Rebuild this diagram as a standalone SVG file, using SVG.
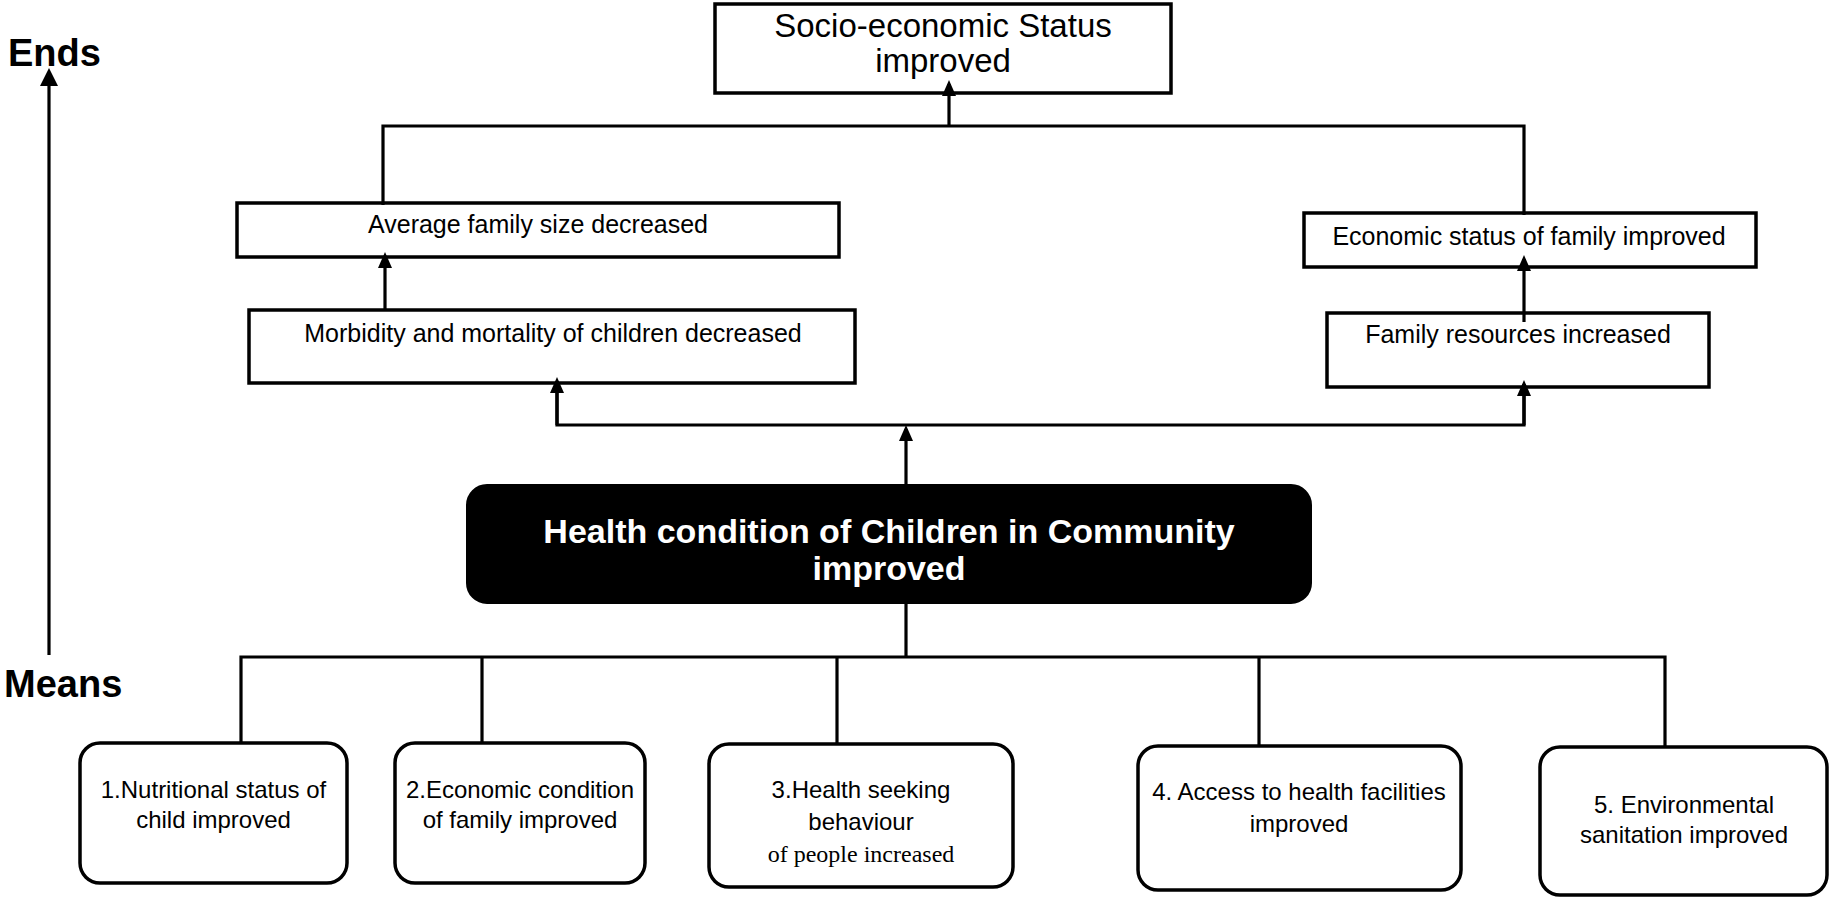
<svg xmlns="http://www.w3.org/2000/svg" width="1830" height="898" viewBox="0 0 1830 898">
<style>
.box{fill:#fff;stroke:#000;stroke-width:3.5}
.rbox{fill:#fff;stroke:#000;stroke-width:3.5}
.dark{fill:#000;stroke:#000;stroke-width:2}
.t{font-family:"Liberation Sans",Arial,sans-serif;fill:#000;text-anchor:middle}
.s25{font-size:25px}
.s24{font-size:24px}
.serif{font-family:"Liberation Serif","Times New Roman",serif;font-size:24px}
.hd{font-family:"Liberation Sans",Arial,sans-serif;font-weight:bold;font-size:34px;fill:#fff;text-anchor:middle}
.axis{font-family:"Liberation Sans",Arial,sans-serif;font-weight:bold;font-size:38px;fill:#000}
.ln{fill:none;stroke:#000;stroke-width:3.2}
</style>
<defs>
<marker id="ah" viewBox="0 0 16 14" refX="12" refY="7" markerWidth="16" markerHeight="14" markerUnits="userSpaceOnUse" orient="auto"><path d="M0,0 L16,7 L0,14 z" fill="#000"/></marker>
<marker id="ahBig" viewBox="0 0 18 18" refX="14" refY="9" markerWidth="18" markerHeight="18" markerUnits="userSpaceOnUse" orient="auto"><path d="M0,0 L18,9 L0,18 z" fill="#000"/></marker>
</defs>

<g id="axis">
<text class="axis" x="8" y="66">Ends</text>
<text class="axis" x="4" y="697">Means</text>
<line class="ln" x1="49" y1="655" x2="49" y2="72" marker-end="url(#ahBig)"/>
</g>

<g id="node-socio">
<rect class="box" x="715" y="4" width="456" height="89"/>
<text class="t" x="943" y="37" style="font-size:33px">Socio-economic Status</text>
<text class="t" x="943" y="72" style="font-size:33px">improved</text>
</g>

<g id="node-family-size">
<rect class="box" x="237" y="203" width="602" height="54"/>
<text class="t s25" x="538" y="233">Average family size decreased</text>
</g>

<g id="node-morbidity">
<rect class="box" x="249" y="310" width="606" height="73"/>
<text class="t s25" x="553" y="342">Morbidity and mortality of children decreased</text>
</g>

<g id="node-economic-status">
<rect class="box" x="1304" y="213" width="452" height="54"/>
<text class="t s25" x="1529" y="245">Economic status of family improved</text>
</g>

<g id="node-family-resources">
<rect class="box" x="1327" y="313" width="382" height="74"/>
<text class="t s25" x="1518" y="343">Family resources increased</text>
</g>

<g id="node-health">
<rect class="dark" x="467" y="485" width="844" height="118" rx="20" ry="20"/>
<text class="hd" x="889" y="543">Health condition of Children in Community</text>
<text class="hd" x="889" y="580">improved</text>
</g>

<g id="node-means1">
<rect class="rbox" x="80" y="743" width="267" height="140" rx="20" ry="20"/>
<text class="t s24" x="213.5" y="798">1.Nutritional status of</text>
<text class="t s24" x="213.5" y="828">child improved</text>
</g>

<g id="node-means2">
<rect class="rbox" x="395" y="743" width="250" height="140" rx="20" ry="20"/>
<text class="t s24" x="520" y="798">2.Economic condition</text>
<text class="t s24" x="520" y="828">of family improved</text>
</g>

<g id="node-means3">
<rect class="rbox" x="709" y="744" width="304" height="143" rx="20" ry="20"/>
<text class="t s24" x="861" y="798">3.Health seeking</text>
<text class="t s24" x="861" y="830">behaviour</text>
<text class="t serif" x="861" y="862">of people increased</text>
</g>

<g id="node-means4">
<rect class="rbox" x="1138" y="746" width="323" height="144" rx="20" ry="20"/>
<text class="t s24" x="1299" y="800">4. Access to health facilities</text>
<text class="t s24" x="1299" y="832">improved</text>
</g>

<g id="node-means5">
<rect class="rbox" x="1540" y="747" width="287" height="148" rx="20" ry="20"/>
<text class="t s24" x="1684" y="813">5. Environmental</text>
<text class="t s24" x="1684" y="843">sanitation improved</text>
</g>

<g id="connectors">
<!-- top level join -->
<polyline class="ln" points="383,205 383,126 1524,126 1524,215"/>
<line class="ln" x1="949" y1="126" x2="949" y2="84" marker-end="url(#ah)"/>
<!-- morbidity to family size -->
<line class="ln" x1="385" y1="310" x2="385" y2="256" marker-end="url(#ah)"/>
<!-- family resources to economic status -->
<line class="ln" x1="1524" y1="322" x2="1524" y2="259" marker-end="url(#ah)"/>
<!-- middle join -->
<polyline class="ln" points="557,381 557,425 1524,425 1524,384"/>
<line class="ln" x1="557" y1="425" x2="557" y2="381" marker-end="url(#ah)"/>
<line class="ln" x1="1524" y1="425" x2="1524" y2="384" marker-end="url(#ah)"/>
<line class="ln" x1="906" y1="487" x2="906" y2="429" marker-end="url(#ah)"/>
<!-- bottom tree -->
<line class="ln" x1="906" y1="603" x2="906" y2="657"/>
<polyline class="ln" points="241,743 241,657 1665,657 1665,747"/>
<line class="ln" x1="482" y1="657" x2="482" y2="743"/>
<line class="ln" x1="837" y1="657" x2="837" y2="744"/>
<line class="ln" x1="1259" y1="657" x2="1259" y2="746"/>
</g>
</svg>
